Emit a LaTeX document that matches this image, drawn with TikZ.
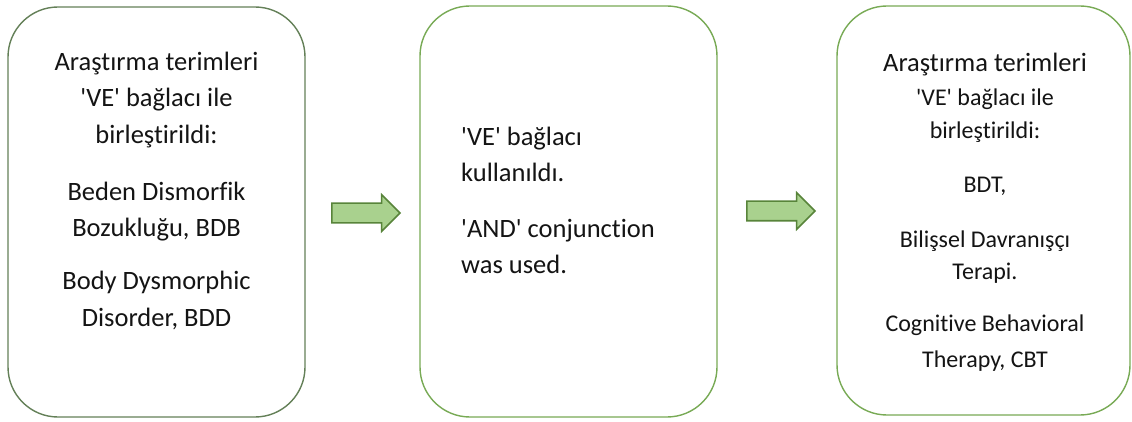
\documentclass[tikz,border=0pt]{standalone}
\usepackage{fontspec}
\setmainfont{Carlito}[Ligatures={NoCommon}]
\usetikzlibrary{shapes.arrows}
\definecolor{boxdark}{RGB}{100,128,88}
\definecolor{boxgreen}{RGB}{120,170,85}
\definecolor{arrowfill}{RGB}{169,209,142}
\definecolor{arrowline}{RGB}{88,132,58}
\definecolor{textcol}{RGB}{20,20,20}
\newcommand{\sq}{\textquotesingle}
\tikzset{
  stagebox/.style={draw=boxgreen, line width=1.4pt, rounded corners=50pt, fill=white, inner sep=0pt},
  blockarrow/.style={single arrow, draw=arrowline, fill=arrowfill, line width=1.6pt, inner sep=0pt,
    minimum height=68pt, single arrow head extend=8.5pt, single arrow head indent=0pt, single arrow tip angle=90},
  bigtext/.style={font=\fontsize{26.5}{36.5}\selectfont, text=textcol, inner sep=0pt},
  smalltext/.style={font=\fontsize{24}{33.5}\selectfont, text=textcol, inner sep=0pt},
}
\begin{document}
\begin{tikzpicture}[x=1pt,y=-1pt]
\useasboundingbox (0,0) rectangle (1132,422);
% boxes
\node[stagebox, draw=boxdark, minimum width=297pt, minimum height=410pt] (b1) at (156.5,212) {};
\node[stagebox, minimum width=297pt, minimum height=411pt] (b2) at (568.5,211.5) {};
\node[stagebox, minimum width=293pt, minimum height=409pt] (b3) at (983.5,210.5) {};
% texts
\node[bigtext, align=center, anchor=north] (t1) at (156.5,51.5) {Araştırma terimleri\\\sq VE\sq{} bağlacı ile\\birleştirildi:\\[20.5pt]Beden Dismorfik\\Bozukluğu, BDB\\[16.5pt]Body Dysmorphic\\Disorder, BDD};
\node[bigtext, align=left, anchor=north west] (t2) at (461,126.5) {\sq VE\sq{} bağlacı\\kullanıldı.\\[19pt]\sq AND\sq{} conjunction\\was used.};
\node[smalltext, align=center, anchor=north] (t3) at (985,53) {{\fontsize{26.5}{33.5}\selectfont Araştırma terimleri}\\[0.5pt]\sq VE\sq{} bağlacı ile\\[-0.5pt]birleştirildi:\\[20.5pt]BDT,\\[21.5pt]Bilişsel Davranışçı\\[-1.5pt]Terapi.\\[18.5pt]Cognitive Behavioral\\[2.5pt]Therapy, CBT};
% arrows
\node[blockarrow] (a1) at (361,213) {\rule{0pt}{18pt}};
\node[blockarrow] (a2) at (776,211) {\rule{0pt}{18pt}};
\end{tikzpicture}
\end{document}
